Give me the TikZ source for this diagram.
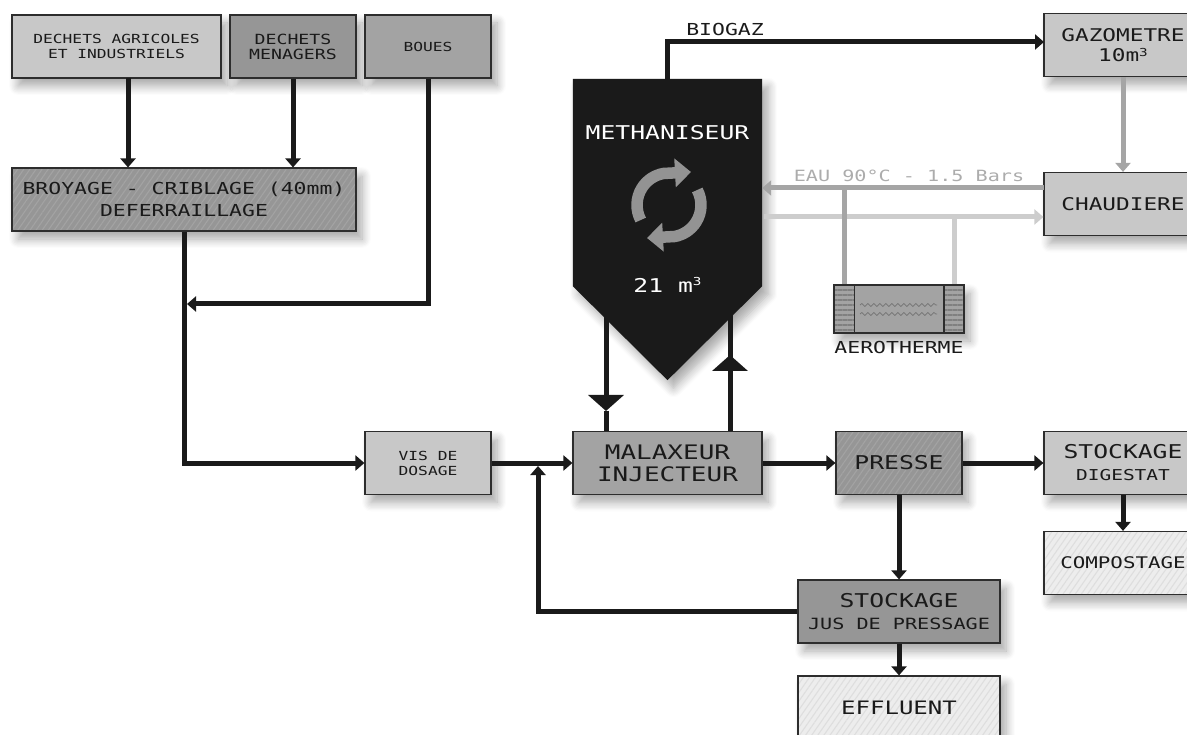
\documentclass[tikz,border=0pt]{standalone}
\usepackage{fontspec}
\usepackage{tikz}
\usetikzlibrary{positioning, arrows.meta, patterns.meta, shadows.blur, decorations.pathmorphing}
\newfontfamily\techfont[FakeStretch=1.3]{DejaVu Sans Mono}
\definecolor{inkblack}{RGB}{26,26,26}
\definecolor{edgegray}{RGB}{45,45,45}
\definecolor{palegray}{RGB}{200,200,200}
\definecolor{midgray}{RGB}{163,163,163}
\definecolor{darkgray}{RGB}{150,150,150}
\definecolor{hotwater}{RGB}{165,165,165}
\definecolor{coldwater}{RGB}{205,205,205}
\newcommand{\cube}[1]{\raisebox{#1pt}{\fontsize{11}{11}\selectfont 3}}
\tikzset{
x=1pt, y=-1pt, % one unit is one pixel of the drawing
node distance=100pt, % centre to centre
stage/.style={rectangle, draw=edgegray, line width=1.2pt, inner sep=0pt, minimum height=63pt, text=inkblack, align=center,
  blur shadow={shadow xshift=6pt, shadow yshift=-8pt, shadow blur steps=8, shadow blur radius=9pt, shadow opacity=35}},
hatched/.style n args={2}{preaction={fill=#1}, pattern={Lines[angle=55, distance=5pt, line width=1.1pt]}, pattern color=#2},
flow/.style={draw=inkblack, line width=5pt},
tipped/.style={-{Triangle[length=9pt, width=15pt]}},
bigtip/.style={-{Triangle[length=16pt, width=35pt]}},
hot/.style={draw=hotwater, line width=5pt},
cold/.style={draw=coldwater, line width=5pt},
cycle/.style={draw=gray!85, line width=11.5pt, -{Triangle[length=16pt, width=28pt]}},
endcap/.style={rectangle, draw=edgegray, line width=1.2pt, inner sep=0pt, minimum width=20pt, minimum height=48pt, preaction={fill=midgray}, pattern={Lines[angle=0, distance=5pt, line width=1.5pt]}, pattern color=gray},
wave/.style={black!55, line width=0.7pt, decorate, decoration={snake, amplitude=1.5pt, segment length=6pt}},
tiny/.style={font=\techfont\fontsize{12.5}{15}\selectfont},
small/.style={font=\techfont\fontsize{14}{15}\selectfont},
big/.style={font=\techfont\fontsize{19}{22}\selectfont},
}

\begin{document}
\begin{tikzpicture}
      \clip (0,0) rectangle (1187,735);

      \node[stage, tiny, fill=palegray, minimum width=209pt] (agricoles) at (116.5,46.5) {DECHETS AGRICOLES\\ET INDUSTRIELS};
      \node[stage, small, fill=darkgray, minimum width=126pt, right of=agricoles, xshift=76.5] (menagers) {DECHETS\\MENAGERS};
      \node[stage, tiny, fill=midgray, minimum width=126pt, right of=menagers, xshift=35] (boues) {BOUES};
      \node[stage, big, hatched={darkgray}{midgray}, minimum width=344pt, below of=agricoles, xshift=67.5, yshift=-53, font=\techfont\fontsize{16.5}{22}\selectfont] (broyage) {BROYAGE - CRIBLAGE (40mm)\\DEFERRAILLAGE};
      \node[stage, tiny, fill=palegray, minimum width=126pt, below of=boues, yshift=-316.5] (vis) {VIS DE\\DOSAGE};
      \node[stage, big, fill=midgray, minimum width=189pt, right of=vis, xshift=139.5, font=\techfont\fontsize{20}{22}\selectfont] (malaxeur) {MALAXEUR\\INJECTEUR};
      \node[stage, big, hatched={darkgray}{midgray}, minimum width=126pt, right of=malaxeur, xshift=131.5] (presse) {PRESSE};
      \node[stage, big, fill=palegray, minimum width=158pt, right of=presse, xshift=124] (digestat) {STOCKAGE\\{\fontsize{15}{15}\selectfont DIGESTAT}};
      \node[stage, big, hatched={black!7}{black!13}, minimum width=158pt, below of=digestat, font=\techfont\fontsize{16}{22}\selectfont] (compostage) {COMPOSTAGE};
      \node[stage, big, fill=darkgray, minimum width=202pt, below of=presse, yshift=-48.5] (jus) {STOCKAGE\\{\fontsize{15.5}{17}\selectfont JUS DE PRESSAGE}};
      \node[stage, big, hatched={black!7}{black!13}, minimum width=202pt, below of=jus, yshift=4, font=\techfont\fontsize{18.5}{22}\selectfont] (effluent) {EFFLUENT};
      \node[stage, big, fill=palegray, minimum width=158pt, font=\techfont\fontsize{17.5}{20}\selectfont] (gazometre) at (1123,45) {GAZOMETRE\\10m\cube{5}};
      \node[stage, big, fill=palegray, minimum width=158pt, below of=gazometre, yshift=-59, font=\techfont\fontsize{17.5}{22}\selectfont] (chaudiere) {CHAUDIERE};

      % the tank is a node without outline and a point below it
      \node[minimum width=189pt, minimum height=207pt, inner sep=0pt] (methaniseur) at (667.5,182.5) {};
      \path[fill=inkblack, blur shadow={shadow xshift=6pt, shadow yshift=-8pt, shadow blur steps=8, shadow blur radius=9pt, shadow opacity=35}]
        (methaniseur.north west) -- (methaniseur.north east) -- (methaniseur.south east)
        -- ([yshift=-94]methaniseur.south) -- (methaniseur.south west) -- cycle;
      \node[big, text=white, above of=methaniseur, yshift=-50.5] (titre) {METHANISEUR};
      \node[big, text=white, below of=methaniseur, yshift=-2] (volume) {21 m\cube{7}};
      \coordinate (centre) at (669,205);
      \draw[cycle] ([shift={(208:32pt)}]centre) arc[start angle=208, end angle=100, radius=32pt] -- (691,172);
      \draw[cycle] ([shift={(28:32pt)}]centre) arc[start angle=28, end angle=-80, radius=32pt] -- (647,238);

      % aerotherme
      \node[stage, fill=midgray, minimum width=130pt, minimum height=48pt] (aerotherme) at (899,309) {};
      \node[endcap, right=0pt of aerotherme.west] (aerogauche) {};
      \node[endcap, left=0pt of aerotherme.east] (aerodroite) {};
      \coordinate (ondeA) at (860,305);
      \coordinate (ondeB) at (937,305);
      \coordinate (ondeC) at (860,314);
      \coordinate (ondeD) at (937,314);
      \draw[wave] (ondeA) -- (ondeB);
      \draw[wave] (ondeC) -- (ondeD);
      \node[small, below of=aerotherme, yshift=62, font=\techfont\fontsize{16.5}{18}\selectfont, text=inkblack] (aerolabel) {AEROTHERME};

      % water circuit
      \coordinate (chaud) at (1044,188);
      \coordinate (froid) at (764,217);
      \coordinate (brancheA) at (844,188);
      \coordinate (brancheB) at (954,217);
      \draw[cold, tipped] (froid) -- (froid -| chaudiere.west);
      \draw[cold] (brancheB) -- (brancheB |- aerotherme.north);
      \draw[hot, tipped] (chaud) -- (chaud -| methaniseur.east);
      \draw[hot] (brancheA) -- (brancheA |- aerotherme.north);
      \draw[hot, tipped] (gazometre.south) -- (chaudiere.north);
      \node[text=gray!65, font=\techfont\fontsize{15.5}{18}\selectfont] (eau) at (909,176) {EAU 90°C - 1.5 Bars};

      % solid flows
      \coordinate (agrisortie) at (128,78);
      \coordinate (jonction) at (187,304);
      \coordinate (retourvis) at (538,466);
      \coordinate (sortie) at (606,315);
      \coordinate (sortiepic) at (606,411);
      \coordinate (retour) at (730,315);
      \coordinate (retourpic) at (730,355);
      \coordinate (gazentree) at (1044,42);
      \draw[flow, tipped] (agrisortie) -- (agrisortie |- broyage.north);
      \draw[flow, tipped] (menagers.south) -- (menagers.south |- broyage.north);
      \draw[flow, tipped] (boues.south) |- (jonction);
      \draw[flow, tipped] (broyage.south) |- (vis.west);
      \draw[flow, tipped] (vis.east) -- (malaxeur.west);
      \draw[flow, tipped] (malaxeur.east) -- (presse.west);
      \draw[flow, tipped] (presse.east) -- (digestat.west);
      \draw[flow, tipped] (presse.south) -- (jus.north);
      \draw[flow, tipped] (jus.south) -- (effluent.north);
      \draw[flow, tipped] (digestat.south) -- (compostage.north);
      \draw[flow, tipped] (jus.west) -| (retourvis);
      \draw[flow, tipped] (methaniseur.north) |- (gazentree);
      \draw[flow, bigtip] (sortie) -- (sortiepic);
      \draw[flow] (sortiepic) -- (sortie |- malaxeur.north);
      \draw[flow] (retour) -- (retour |- malaxeur.north);
      \draw[flow, bigtip] (retour |- malaxeur.north) -- (retourpic);
      \node[font=\techfont\fontsize{16.5}{18}\selectfont, text=inkblack] (biogaz) at (725,29) {BIOGAZ};
    \end{tikzpicture}
\end{document}
